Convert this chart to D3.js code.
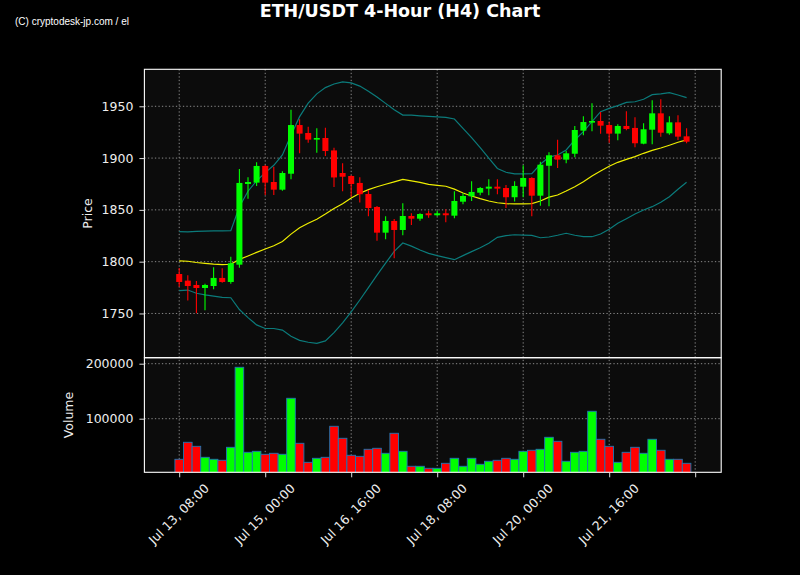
<!DOCTYPE html>
<html><head><meta charset="utf-8">
<script src="https://cdn.jsdelivr.net/npm/d3@7"></script>
<style>html,body{margin:0;padding:0;background:#000;}svg{display:block}</style>
</head><body><svg id="chart" width="800" height="575"></svg>
<script>
// ---------- DATA ----------
const startTime = "2023-07-13T08:00:00Z";
const intervalHours = 4;
const opens  = [1788.1,1781.7,1777.5,1774.6,1776.5,1784.3,1780.4,1797.1,1875.0,1876.3,1892.4,1876.9,1869.5,1884.9,1931.9,1924.2,1917.8,1919.4,1907.4,1885.6,1882.7,1876.0,1865.3,1852.8,1828.0,1839.3,1830.6,1844.1,1841.5,1846.7,1844.8,1846.7,1844.4,1857.9,1863.1,1866.6,1870.5,1872.4,1871.1,1862.2,1872.4,1880.8,1863.7,1892.6,1902.7,1898.5,1904.2,1926.5,1934.2,1935.8,1931.9,1923.6,1931.0,1929.1,1913.9,1927.4,1943.2,1923.9,1934.5,1921.0];
const highs  = [1793.9,1786.9,1781.4,1778.8,1794.6,1793.6,1804.8,1889.5,1881.5,1895.9,1893.3,1891.7,1887.2,1946.7,1937.5,1930.3,1928.7,1929.2,1910.0,1895.0,1883.5,1881.5,1869.2,1853.8,1843.8,1841.2,1856.4,1846.7,1846.7,1849.2,1849.2,1850.6,1867.9,1866.0,1877.6,1872.1,1879.5,1879.5,1874.0,1877.6,1893.0,1881.5,1896.5,1905.6,1917.8,1906.9,1931.0,1940.3,1952.9,1944.5,1935.1,1932.6,1945.2,1939.4,1933.6,1955.8,1956.8,1940.3,1941.3,1928.8];
const lows   = [1775.9,1762.4,1750.2,1753.1,1773.3,1779.7,1778.8,1794.2,1860.8,1873.1,1864.4,1864.4,1868.5,1879.5,1904.6,1914.9,1905.1,1902.0,1872.1,1867.9,1862.7,1857.0,1843.8,1820.3,1821.6,1803.3,1825.5,1835.4,1839.6,1842.5,1843.8,1838.0,1841.9,1855.4,1858.6,1864.1,1864.1,1865.1,1851.8,1858.0,1862.2,1843.8,1854.1,1853.5,1890.4,1895.0,1900.8,1922.0,1925.8,1923.6,1914.9,1917.2,1926.8,1910.4,1913.3,1913.3,1920.7,1922.6,1917.5,1914.3];
const closes = [1780.4,1776.5,1774.6,1777.5,1784.3,1780.4,1798.5,1876.0,1876.9,1892.4,1876.3,1869.5,1885.6,1931.9,1923.6,1917.8,1919.4,1906.8,1881.3,1882.0,1875.0,1865.1,1851.8,1828.0,1839.3,1830.6,1844.1,1841.5,1846.0,1844.8,1846.7,1844.8,1858.6,1863.4,1867.3,1871.1,1872.4,1870.5,1862.2,1873.1,1880.8,1863.7,1893.6,1902.7,1898.5,1904.6,1927.1,1934.8,1935.8,1931.3,1923.6,1931.0,1928.1,1914.3,1927.8,1943.2,1924.5,1934.5,1920.7,1915.8];
const volumes = [26200,57100,49800,29800,26200,24400,48000,193500,38900,40700,35300,37100,35300,137100,55300,20700,28000,29800,86200,64400,33500,31600,44400,46200,37100,73500,40700,13500,13500,9800,9800,18900,28000,13500,28000,17100,22600,24400,28000,26200,40700,42600,44400,66200,58900,22600,38900,40700,113500,62600,49800,20700,38900,48000,37100,62600,42600,26200,26200,18900];
const bbMiddle = [1800.7,1800.4,1799.2,1798.4,1797.7,1797.2,1797.5,1802.2,1805.5,1809.0,1812.2,1815.4,1819.4,1826.6,1832.8,1837.1,1841.0,1846.0,1851.3,1856.0,1861.5,1866.0,1869.5,1872.3,1874.7,1877.0,1879.5,1878.0,1876.5,1874.7,1873.7,1872.8,1870.0,1866.3,1863.4,1860.8,1858.6,1856.9,1856.0,1855.7,1855.7,1856.0,1858.6,1862.3,1864.4,1868.2,1872.4,1877.2,1882.7,1887.5,1892.1,1895.9,1898.8,1901.4,1904.6,1907.5,1909.7,1912.4,1915.3,1917.5];
const bbUpper = [1829.0,1828.7,1829.2,1829.5,1829.7,1829.8,1830.0,1853.0,1868.0,1878.0,1886.0,1893.0,1903.0,1922.0,1940.0,1953.0,1962.0,1968.0,1971.5,1973.5,1972.6,1969.5,1964.5,1959.0,1952.8,1946.6,1941.5,1941.4,1940.8,1940.3,1939.8,1939.2,1937.7,1928.7,1919.7,1910.0,1900.0,1890.0,1886.3,1884.7,1884.7,1885.0,1894.0,1901.0,1903.0,1907.8,1917.5,1925.5,1935.1,1944.8,1948.0,1950.6,1953.8,1954.4,1956.8,1961.2,1961.9,1963.1,1960.9,1958.3];
const bbLower = [1772.0,1772.6,1769.5,1768.0,1766.7,1765.5,1765.2,1753.8,1746.0,1739.0,1735.5,1735.5,1734.0,1728.0,1724.0,1722.2,1721.2,1723.5,1731.5,1741.0,1751.5,1763.0,1775.0,1787.0,1798.5,1810.0,1818.0,1815.0,1811.3,1808.0,1805.8,1803.9,1801.9,1805.8,1809.7,1813.5,1817.7,1823.5,1825.1,1826.0,1825.7,1825.4,1823.1,1823.8,1825.5,1827.4,1825.5,1824.1,1824.1,1826.7,1831.3,1837.1,1841.5,1846.0,1849.9,1853.1,1857.3,1862.7,1869.9,1876.6];
const priceTicks = [1750,1800,1850,1900,1950];
const volumeTicks = [100000,200000];
const xTickHours = [0,40,80,120,160,200,240];
const xTickLabels = ["Jul 13, 08:00","Jul 15, 00:00","Jul 16, 16:00","Jul 18, 08:00","Jul 20, 00:00","Jul 21, 16:00",""];
const titleText = "ETH/USDT 4-Hour (H4) Chart";
const watermarkText = "(C) cryptodesk-jp.com / el";

// ---------- LAYOUT ----------
const L = 144.4, R = 721.2, pTop = 69.3, pBot = 357.7, vBot = 472.3;
const HOUR = 3600e3;
const t0 = new Date(startTime).getTime();
const times = opens.map((_, i) => new Date(t0 + i * intervalHours * HOUR));
const rows = opens.map((o, i) => ({t: times[i], o, h: highs[i], l: lows[i], c: closes[i], v: volumes[i], up: closes[i] >= o}));

const svg = d3.select("#chart");
svg.append("rect").attr("width", 800).attr("height", 575).attr("fill", "#000");

const x = d3.scaleUtc().domain([new Date(t0 - 16.19 * HOUR), new Date(t0 + 252.1 * HOUR)]).range([L, R]);
const y = d3.scaleLinear().domain([1707.3, 1985.7]).range([pBot, pTop]);
const yv = d3.scaleLinear().domain([2545, 210900]).range([vBot, pBot]);
const step = x(new Date(t0 + intervalHours * HOUR)) - x(new Date(t0));

const UP = "#00ff00", DOWN = "#ff0000";
const font = "DejaVu Sans, sans-serif";

// panel backgrounds
svg.append("rect").attr("x", L).attr("y", pTop).attr("width", R - L).attr("height", pBot - pTop).attr("fill", "#0c0c0c");
svg.append("rect").attr("x", L).attr("y", pBot).attr("width", R - L).attr("height", vBot - pBot).attr("fill", "#0c0c0c");

const defs = svg.append("defs");
defs.append("clipPath").attr("id", "cp").append("rect").attr("x", L).attr("y", pTop).attr("width", R - L).attr("height", pBot - pTop);
defs.append("clipPath").attr("id", "cv").append("rect").attr("x", L).attr("y", pBot).attr("width", R - L).attr("height", vBot - pBot);

// grid
const xTickDates = xTickHours.map(h => new Date(t0 + h * HOUR));
const grid = svg.append("g").attr("stroke", "#8a8a8a").attr("stroke-width", 1).attr("stroke-dasharray", "1.3,2.2");
xTickDates.forEach(d => {
  grid.append("line").attr("x1", x(d)).attr("x2", x(d)).attr("y1", pTop).attr("y2", vBot);
});
priceTicks.forEach(p => grid.append("line").attr("x1", L).attr("x2", R).attr("y1", y(p)).attr("y2", y(p)));
volumeTicks.forEach(v => grid.append("line").attr("x1", L).attr("x2", R).attr("y1", yv(v)).attr("y2", yv(v)));

// bollinger bands
const gp = svg.append("g").attr("clip-path", "url(#cp)");
const line = arr => d3.line().x((d, i) => x(times[i])).y(d => y(d))(arr);
gp.append("path").attr("d", line(bbUpper)).attr("fill", "none").attr("stroke", "#0b7b7b").attr("stroke-width", 1.2);
gp.append("path").attr("d", line(bbLower)).attr("fill", "none").attr("stroke", "#0b7b7b").attr("stroke-width", 1.2);
gp.append("path").attr("d", line(bbMiddle)).attr("fill", "none").attr("stroke", "#eeee00").attr("stroke-width", 1.2);

// candles
const cw = step * 0.7;
const cg = gp.append("g");
cg.selectAll("line.wick").data(rows).join("line")
  .attr("x1", d => x(d.t)).attr("x2", d => x(d.t))
  .attr("y1", d => y(d.h)).attr("y2", d => y(d.l))
  .attr("stroke", d => d.up ? UP : DOWN).attr("stroke-width", 1.1);
cg.selectAll("rect.body").data(rows).join("rect")
  .attr("x", d => x(d.t) - cw / 2).attr("width", cw)
  .attr("y", d => y(Math.max(d.o, d.c)))
  .attr("height", d => Math.max(1, Math.abs(y(d.o) - y(d.c))))
  .attr("fill", d => d.up ? UP : DOWN);

// volume bars
const gv = svg.append("g").attr("clip-path", "url(#cv)");
gv.selectAll("rect").data(rows).join("rect")
  .attr("x", d => x(d.t) - step / 2).attr("width", step)
  .attr("y", d => yv(d.v)).attr("height", d => vBot - yv(d.v) + 2)
  .attr("fill", d => d.up ? UP : DOWN)
  .attr("stroke", "#1f77b4").attr("stroke-width", 0.9);

// spines
const sp = svg.append("g").attr("fill", "none").attr("stroke", "#ffffff").attr("stroke-width", 1.1);
sp.append("rect").attr("x", L).attr("y", pTop).attr("width", R - L).attr("height", pBot - pTop);
sp.append("rect").attr("x", L).attr("y", pBot).attr("width", R - L).attr("height", vBot - pBot);

// axes
function styleAxis(g) {
  g.select(".domain").remove();
  g.selectAll(".tick line").attr("stroke", "#dddddd").attr("stroke-width", 1);
  g.selectAll(".tick text").attr("fill", "#eeeeee").attr("font-family", font).attr("font-size", "12.5px");
}
svg.append("g").attr("transform", `translate(${L},0)`)
  .call(d3.axisLeft(y).tickValues(priceTicks).tickSize(5).tickPadding(6).tickFormat(d3.format("d")))
  .call(styleAxis);
svg.append("g").attr("transform", `translate(${L},0)`)
  .call(d3.axisLeft(yv).tickValues(volumeTicks).tickSize(5).tickPadding(6).tickFormat(d3.format("d")))
  .call(styleAxis);
const xa = svg.append("g").attr("transform", `translate(0,${vBot})`)
  .call(d3.axisBottom(x).tickValues(xTickDates).tickSize(5).tickFormat((d, i) => xTickLabels[i]))
  .call(styleAxis);
xa.selectAll(".tick text").each(function() {
  const t = d3.select(this);
  const w = this.getComputedTextLength();
  const h = 14.6;
  const s = (w + h) / Math.SQRT2;
  t.attr("text-anchor", "middle").attr("dy", null).attr("y", null)
   .attr("dominant-baseline", "central")
   .attr("transform", `translate(-1,${8.5 + s / 2}) rotate(-45)`);
});

// axis labels
svg.append("text").attr("transform", `translate(87,${(pTop + pBot) / 2}) rotate(-90)`)
  .attr("text-anchor", "middle").attr("dominant-baseline", "central")
  .attr("fill", "#eeeeee").attr("font-family", font).attr("font-size", "12.5px").text("Price");
svg.append("text").attr("transform", `translate(68,${(pBot + vBot) / 2}) rotate(-90)`)
  .attr("text-anchor", "middle").attr("dominant-baseline", "central")
  .attr("fill", "#eeeeee").attr("font-family", font).attr("font-size", "12.5px").text("Volume");

// title & watermark
svg.append("text").attr("x", 400).attr("y", 17).attr("text-anchor", "middle")
  .attr("fill", "#ffffff").attr("font-family", font).attr("font-weight", "bold").attr("font-size", "17.5px").text(titleText);
svg.append("text").attr("x", 15).attr("y", 24.5)
  .attr("fill", "#ffffff").attr("font-family", "Liberation Sans, Arial, sans-serif").attr("font-size", "10px").text(watermarkText);
</script></body></html>
